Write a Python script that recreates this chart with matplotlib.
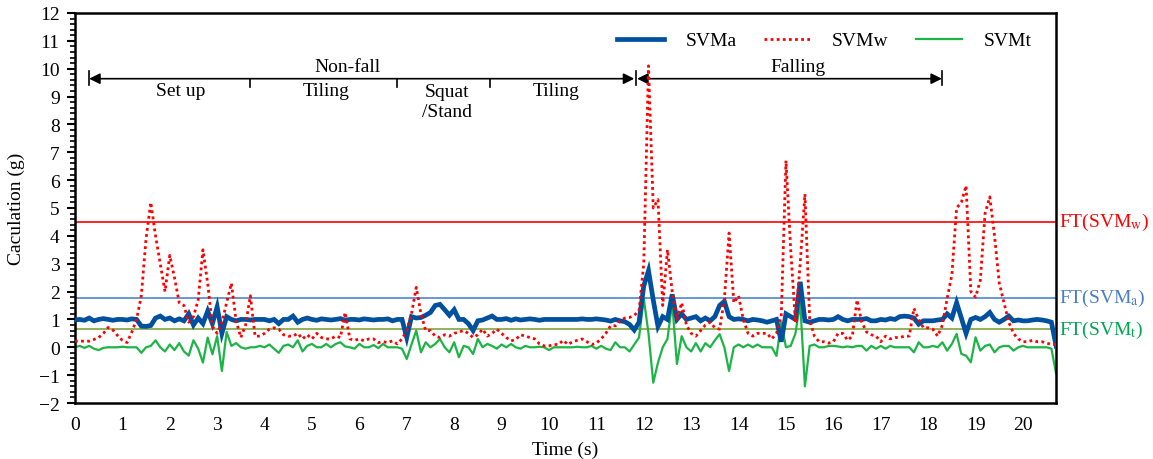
import numpy as np
import matplotlib
matplotlib.use("Agg")
import matplotlib.pyplot as plt

plt.rcParams['font.family'] = ['Liberation Serif', 'DejaVu Serif']
plt.rcParams['mathtext.fontset'] = 'stix'

DT = 0.1   # sample spacing (s)

# acceleration magnitude, waist sensor (g), one row per second
svm_a = [0.98, 1.00, 0.97, 1.05, 0.95, 1.00, 1.03, 1.00, 0.97, 1.00,
         1.00, 0.98, 1.02, 1.00, 0.76, 0.75, 0.78, 1.05, 1.12, 1.00,
         1.05, 0.95, 1.02, 0.95, 1.20, 0.80, 1.05, 0.85, 1.30, 0.85,
         1.45, 0.50, 1.10, 1.00, 0.95, 1.00, 1.00, 0.98, 1.00, 1.00,
         1.00, 0.95, 1.00, 0.85, 1.00, 1.00, 1.12, 0.90, 1.00, 1.05,
         1.00, 0.97, 1.02, 1.00, 0.98, 1.00, 1.03, 0.97, 1.00, 1.00,
         0.98, 1.02, 1.00, 0.98, 1.00, 1.00, 1.02, 0.95, 1.00, 1.00,
         0.35, 1.10, 1.05, 1.07, 1.15, 1.25, 1.50, 1.54, 1.35, 1.15,
         1.35, 1.00, 1.00, 0.85, 0.60, 0.95, 0.98, 1.05, 1.12, 1.00,
         1.00, 1.03, 0.97, 1.02, 0.98, 1.00, 1.02, 1.00, 0.97, 1.00,
         1.00, 1.00, 1.00, 1.00, 1.00, 1.00, 1.00, 1.02, 1.00, 1.00,
         1.02, 1.00, 0.98, 0.94, 1.00, 0.95, 0.92, 0.82, 0.62, 0.90,
         2.20, 2.75, 1.70, 0.75, 1.10, 1.00, 1.90, 1.00, 1.20, 1.00,
         1.05, 1.10, 0.95, 1.05, 0.95, 1.10, 1.50, 1.65, 1.10, 1.00,
         1.02, 1.00, 0.95, 1.00, 0.98, 0.95, 0.90, 0.95, 1.00, 0.20,
         1.20, 1.10, 1.00, 2.35, 0.95, 0.90, 0.95, 1.00, 1.00, 0.98,
         1.00, 1.10, 1.00, 0.95, 1.00, 1.00, 1.00, 1.03, 0.95, 0.95,
         1.00, 0.98, 1.03, 1.00, 1.10, 1.12, 1.10, 1.05, 0.83, 0.95,
         0.95, 0.95, 0.98, 1.00, 1.20, 1.05, 1.60, 1.05, 0.50, 1.00,
         1.07, 1.00, 1.10, 1.25, 1.00, 0.90, 1.00, 1.12, 0.95, 0.98,
         0.95, 0.95, 0.98, 1.00, 0.98, 0.95, 0.90, 0.04]

# wrist sensor
svm_w = [0.22, 0.22, 0.22, 0.22, 0.28, 0.35, 0.50, 0.71, 0.62, 0.42,
         0.25, 0.17, 0.55, 1.00, 1.85, 3.90, 5.20, 4.00, 3.00, 2.00,
         3.30, 2.50, 1.60, 1.50, 0.90, 1.10, 1.70, 3.50, 2.30, 0.75,
         0.50, 0.90, 1.60, 2.30, 0.95, 0.35, 0.80, 1.85, 0.40, 0.40,
         0.50, 0.65, 0.70, 0.65, 0.45, 0.40, 0.40, 0.50, 0.30, 0.45,
         0.30, 0.50, 0.35, 0.30, 0.30, 0.40, 0.35, 1.25, 0.30, 0.25,
         0.30, 0.23, 0.30, 0.30, 0.17, 0.20, 0.17, 0.23, 0.12, 0.30,
         0.60, 1.20, 2.15, 1.20, 0.60, 0.60, 0.40, 0.35, 0.45, 0.40,
         0.50, 0.55, 0.60, 0.50, 0.35, 0.45, 0.65, 0.40, 0.50, 0.65,
         0.50, 0.35, 0.23, 0.28, 0.45, 0.40, 0.35, 0.30, 0.12, 0.05,
         0.05, 0.10, 0.10, 0.25, 0.10, 0.20, 0.25, 0.30, 0.20, 0.10,
         0.15, 0.30, 0.50, 0.77, 0.77, 0.95, 1.05, 1.07, 1.15, 1.30,
         3.00, 10.10, 5.00, 5.30, 1.50, 3.50, 2.00, 1.00, 1.60, 0.80,
         0.50, 0.40, 0.60, 0.80, 0.90, 0.70, 0.65, 1.70, 4.10, 1.60,
         1.85, 1.00, 0.50, 0.40, 0.50, 0.50, 0.50, 0.30, 0.50, 1.10,
         6.70, 3.50, 0.90, 3.00, 5.50, 1.00, 0.40, 0.20, 0.20, 0.15,
         0.20, 0.50, 0.50, 0.25, 0.40, 1.70, 0.90, 0.55, 0.45, 0.40,
         0.20, 0.40, 0.30, 0.35, 0.35, 0.40, 0.40, 1.40, 1.00, 0.70,
         0.70, 0.65, 0.40, 0.80, 1.75, 2.60, 5.00, 5.20, 5.80, 2.00,
         1.80, 2.40, 4.80, 5.40, 4.00, 2.30, 1.60, 0.90, 0.50, 0.30,
         0.20, 0.20, 0.25, 0.20, 0.20, 0.15, 0.10, 0.10]

# thigh sensor
svm_t = [0.00, 0.05, -0.02, 0.05, -0.05, -0.10, -0.02, 0.00, 0.00, 0.00,
         0.02, 0.00, 0.00, 0.00, -0.20, 0.00, 0.05, 0.25, 0.00, -0.15,
         0.10, -0.10, 0.15, -0.15, -0.30, 0.25, -0.05, -0.55, 0.35, -0.25,
         0.40, -0.85, 0.55, 0.05, 0.15, 0.00, -0.05, 0.00, 0.00, 0.05,
         0.00, 0.10, -0.05, -0.20, 0.05, 0.10, 0.00, 0.25, -0.15, 0.05,
         0.12, 0.00, 0.00, 0.12, 0.00, 0.12, 0.18, 0.03, 0.00, -0.05,
         0.12, 0.00, 0.00, 0.08, -0.03, 0.12, 0.00, 0.00, 0.00, -0.05,
         -0.42, 0.10, 0.60, -0.18, 0.18, 0.00, 0.12, 0.30, 0.00, -0.18,
         0.18, -0.36, 0.05, 0.00, -0.24, 0.30, 0.00, 0.12, 0.05, -0.05,
         0.10, 0.00, 0.12, 0.00, -0.05, 0.05, 0.00, 0.00, 0.02, 0.00,
         -0.10, 0.00, 0.00, 0.00, 0.00, 0.00, 0.02, 0.00, 0.00, 0.05,
         -0.05, 0.05, -0.05, -0.10, 0.18, 0.00, 0.00, -0.15, 0.10, 0.35,
         1.75, 0.50, -1.27, -0.55, 0.00, 0.30, 1.60, -0.60, 0.40, 0.00,
         -0.15, 0.15, -0.15, 0.15, 0.00, 0.25, 0.47, 0.00, -0.85, 0.00,
         0.10, 0.00, 0.10, 0.00, 0.10, 0.00, 0.00, 0.00, -0.31, 0.89,
         0.00, 0.05, 0.50, 1.60, -1.40, 0.05, 0.10, 0.00, 0.00, 0.05,
         0.05, 0.03, 0.00, 0.03, 0.00, 0.05, 0.05, -0.12, 0.05, -0.05,
         0.05, -0.05, 0.05, 0.00, 0.00, 0.00, 0.00, -0.18, 0.18, 0.00,
         0.00, 0.05, 0.00, 0.18, -0.12, 0.12, 0.48, -0.24, -0.30, -0.54,
         0.36, -0.12, 0.05, 0.10, -0.18, 0.00, 0.05, 0.05, -0.12, 0.00,
         0.05, 0.00, 0.00, 0.00, 0.00, 0.00, -0.05, -0.95]

# fall thresholds (g)
ft_w = 4.5
ft_a = 1.78
ft_t = 0.65

# activity segments (s)
nonfall_span = (0.3, 11.8)
falling_span = (11.86, 18.29)
segment_bounds = [3.69, 6.79, 8.75]

t = np.arange(len(svm_a)) * DT

fig = plt.figure(figsize=(11.53, 4.6), dpi=100)
ax = fig.add_axes([0.065, 0.1217, 0.851, 0.848])

# thresholds underneath
ax.axhline(ft_w, color='#FF0000', lw=1.2, zorder=1)
ax.axhline(ft_a, color='#5B8FD0', lw=1.3, zorder=1)
ax.axhline(ft_t, color='#8BAA4E', lw=1.3, zorder=1)

ax.plot(t, svm_a, color='#0050A0', lw=3.4, label='SVMa', zorder=3, solid_joinstyle='miter')
ax.plot(t, svm_w, color='#FF0000', lw=2.0, ls=(0, (1, 1.2)), label='SVMw', zorder=4)
ax.plot(t, svm_t, color='#1DB446', lw=1.6, label='SVMt', zorder=2)

ax.set_xlim(0, 20.7)
ax.set_ylim(-2, 12)
ax.set_xticks(range(0, 21))
ax.set_yticks(range(-2, 13))
ax.set_yticks(np.arange(-2, 12.01, 0.2), minor=True)
ax.tick_params(axis='x', length=0, pad=9, labelsize=14)
ax.tick_params(axis='y', which='major', direction='out', length=6, width=1.5, pad=5, labelsize=14)
ax.tick_params(axis='y', which='minor', direction='out', length=3.5, width=1.2)
for s in ax.spines.values():
    s.set_linewidth(1.8)

ax.set_xlabel('Time (s)', fontsize=14, labelpad=6)
ax.set_ylabel('Caculation (g)', fontsize=14, labelpad=10)

ax.legend(loc='center right', bbox_to_anchor=(0.975, 0.929), ncol=3, frameon=False,
          fontsize=14, handlelength=2.4, handletextpad=1.1, columnspacing=1.4,
          borderaxespad=0, borderpad=0)

# threshold labels on the right
ax.text(1.003, ft_w, 'FT(SVM$_{\\mathrm{w}}$)', transform=ax.get_yaxis_transform(),
        color='#FF0000', fontsize=14, va='center', ha='left')
ax.text(1.003, ft_a, 'FT(SVM$_{\\mathrm{a}}$)', transform=ax.get_yaxis_transform(),
        color='#4A7EC2', fontsize=14, va='center', ha='left')
ax.text(1.003, ft_t, 'FT(SVM$_{\\mathrm{t}}$)', transform=ax.get_yaxis_transform(),
        color='#00A650', fontsize=14, va='center', ha='left')

# activity annotation arrows
ya = 9.64
arrow = dict(arrowstyle='<|-|>', color='k', lw=1.2, shrinkA=0, shrinkB=0, mutation_scale=16)
ax.annotate('', xy=(nonfall_span[0], ya), xytext=(nonfall_span[1], ya), arrowprops=arrow)
ax.annotate('', xy=(falling_span[0], ya), xytext=(falling_span[1], ya), arrowprops=arrow)
for xb in [nonfall_span[0], 11.83, falling_span[1]]:
    ax.plot([xb, xb], [ya - 0.24, ya + 0.26], color='k', lw=1.2)
for xb in segment_bounds:
    ax.plot([xb, xb], [ya, ya - 0.3], color='k', lw=1.2)

ax.text(5.75, 10.08, 'Non-fall', fontsize=14, ha='center', va='center')
ax.text(15.25, 10.08, 'Falling', fontsize=14, ha='center', va='center')
ax.text(2.24, 9.22, 'Set up', fontsize=14, ha='center', va='center')
ax.text(5.3, 9.22, 'Tiling', fontsize=14, ha='center', va='center')
ax.text(7.84, 8.82, 'Squat\n/Stand', fontsize=14, ha='center', va='center')
ax.text(10.16, 9.22, 'Tiling', fontsize=14, ha='center', va='center')

fig.savefig('out.png', dpi=100)
